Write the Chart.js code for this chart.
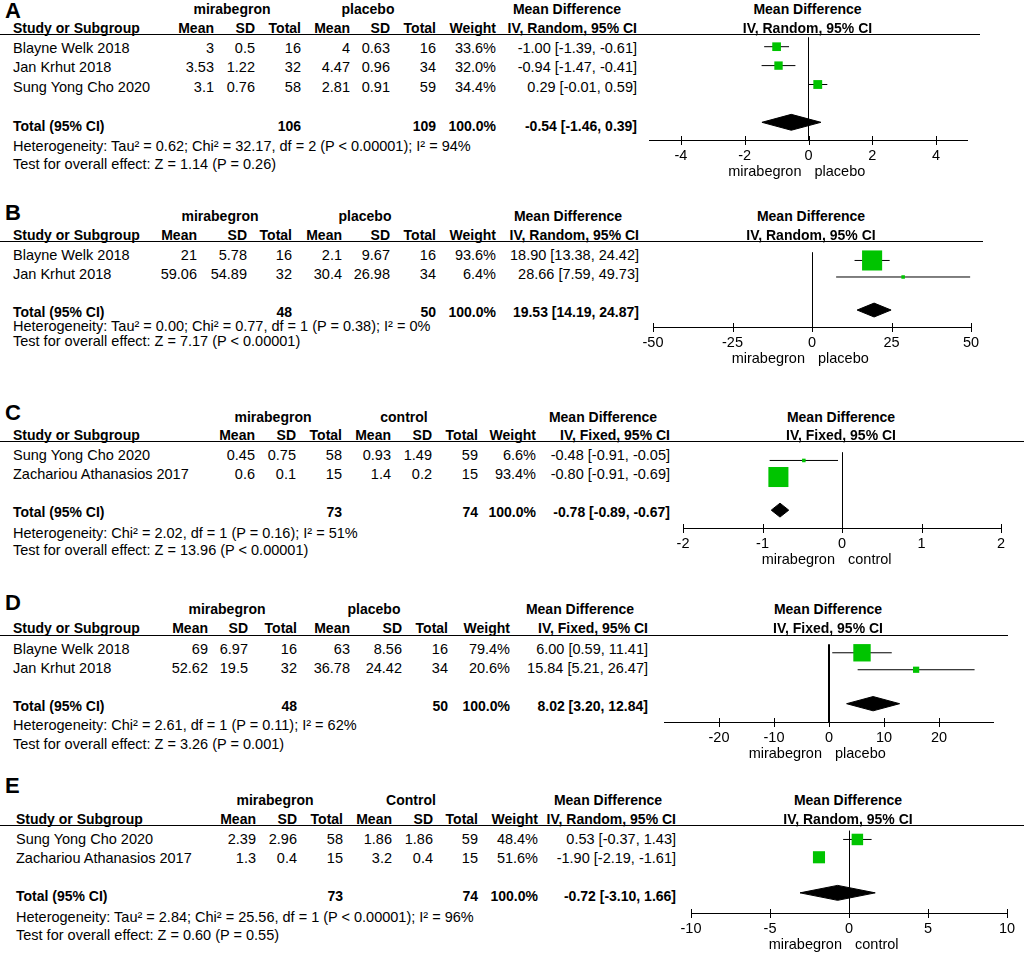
<!DOCTYPE html>
<html>
<head>
<meta charset="utf-8">
<title>Forest plots</title>
<script src="https://cdn.jsdelivr.net/npm/chart.js@4.4.1/dist/chart.umd.min.js"></script>
<style>
  html, body { margin: 0; padding: 0; background: #fff; }
  #page { position: relative; width: 1024px; height: 953px; overflow: hidden; background: #fff; }
  .t { position: absolute; font: 14.5px "Liberation Sans", Arial, sans-serif; line-height: 18px; white-space: nowrap; color: #000; }
  .b { font-weight: bold; font-size: 14px; }
  .rule { position: absolute; left: 0; height: 0; border-top: 1px solid #000; }
  .plot { position: absolute; }
</style>
</head>
<body>
<div id="page"></div>
<script>
// ==================
//  DATOS
// ==================
// A
const A_STUDIES = ["Blayne Welk 2018", "Jan Krhut 2018", "Sung Yong Cho 2020"];
const A_MIRA = [[3, 0.5, 16], [3.53, 1.22, 32], [3.1, 0.76, 58]];   // mean, sd, total
const A_CTRL = [[4, 0.63, 16], [4.47, 0.96, 34], [2.81, 0.91, 59]];
const A_WEIGHT = [33.6, 32.0, 34.4];
const A_MD = [-1.00, -0.94, 0.29];
const A_LO = [-1.39, -1.47, -0.01];
const A_HI = [-0.61, -0.41, 0.59];
const A_TOTAL_N = [106, 109];
const A_POOLED = [-0.54, -1.46, 0.39];
const A_HET = "Heterogeneity: Tau² = 0.62; Chi² = 32.17, df = 2 (P < 0.00001); I² = 94%";
const A_TEST = "Test for overall effect: Z = 1.14 (P = 0.26)";
const A_GROUPS = ["mirabegron", "placebo"];
const A_SIDES = ["mirabegron", "placebo"];
const A_METHOD = "IV, Random, 95% CI";
const A_RANGE = [-5, 5];
const A_TICKS = [-4, -2, 0, 2, 4];

// B
const B_STUDIES = ["Blayne Welk 2018", "Jan Krhut 2018"];
const B_MIRA = [[21, 5.78, 16], [59.06, 54.89, 32]];
const B_CTRL = [[2.1, 9.67, 16], [30.4, 26.98, 34]];
const B_WEIGHT = [93.6, 6.4];
const B_MD = [18.90, 28.66];
const B_LO = [13.38, 7.59];
const B_HI = [24.42, 49.73];
const B_TOTAL_N = [48, 50];
const B_POOLED = [19.53, 14.19, 24.87];
const B_HET = "Heterogeneity: Tau² = 0.00; Chi² = 0.77, df = 1 (P = 0.38); I² = 0%";
const B_TEST = "Test for overall effect: Z = 7.17 (P < 0.00001)";
const B_GROUPS = ["mirabegron", "placebo"];
const B_SIDES = ["mirabegron", "placebo"];
const B_METHOD = "IV, Random, 95% CI";
const B_RANGE = [-50, 50];
const B_TICKS = [-50, -25, 0, 25, 50];

// C
const C_STUDIES = ["Sung Yong Cho 2020", "Zachariou Athanasios 2017"];
const C_MIRA = [[0.45, 0.75, 58], [0.6, 0.1, 15]];
const C_CTRL = [[0.93, 1.49, 59], [1.4, 0.2, 15]];
const C_WEIGHT = [6.6, 93.4];
const C_MD = [-0.48, -0.80];
const C_LO = [-0.91, -0.91];
const C_HI = [-0.05, -0.69];
const C_TOTAL_N = [73, 74];
const C_POOLED = [-0.78, -0.89, -0.67];
const C_HET = "Heterogeneity: Chi² = 2.02, df = 1 (P = 0.16); I² = 51%";
const C_TEST = "Test for overall effect: Z = 13.96 (P < 0.00001)";
const C_GROUPS = ["mirabegron", "control"];
const C_SIDES = ["mirabegron", "control"];
const C_METHOD = "IV, Fixed, 95% CI";
const C_RANGE = [-2, 2];
const C_TICKS = [-2, -1, 0, 1, 2];

// D
const D_STUDIES = ["Blayne Welk 2018", "Jan Krhut 2018"];
const D_MIRA = [[69, 6.97, 16], [52.62, 19.5, 32]];
const D_CTRL = [[63, 8.56, 16], [36.78, 24.42, 34]];
const D_WEIGHT = [79.4, 20.6];
const D_MD = [6.00, 15.84];
const D_LO = [0.59, 5.21];
const D_HI = [11.41, 26.47];
const D_TOTAL_N = [48, 50];
const D_POOLED = [8.02, 3.20, 12.84];
const D_HET = "Heterogeneity: Chi² = 2.61, df = 1 (P = 0.11); I² = 62%";
const D_TEST = "Test for overall effect: Z = 3.26 (P = 0.001)";
const D_GROUPS = ["mirabegron", "placebo"];
const D_SIDES = ["mirabegron", "placebo"];
const D_METHOD = "IV, Fixed, 95% CI";
const D_RANGE = [-30, 30];
const D_TICKS = [-20, -10, 0, 10, 20];

// E
const E_STUDIES = ["Sung Yong Cho 2020", "Zachariou Athanasios 2017"];
const E_MIRA = [[2.39, 2.96, 58], [1.3, 0.4, 15]];
const E_CTRL = [[1.86, 1.86, 59], [3.2, 0.4, 15]];
const E_WEIGHT = [48.4, 51.6];
const E_MD = [0.53, -1.90];
const E_LO = [-0.37, -2.19];
const E_HI = [1.43, -1.61];
const E_TOTAL_N = [73, 74];
const E_POOLED = [-0.72, -3.10, 1.66];
const E_HET = "Heterogeneity: Tau² = 2.84; Chi² = 25.56, df = 1 (P < 0.00001); I² = 96%";
const E_TEST = "Test for overall effect: Z = 0.60 (P = 0.55)";
const E_GROUPS = ["mirabegron", "Control"];
const E_SIDES = ["mirabegron", "control"];
const E_METHOD = "IV, Random, 95% CI";
const E_RANGE = [-10, 10];
const E_TICKS = [-10, -5, 0, 5, 10];

// ==================
//  MAQUETACIÓN (posiciones en px)
// ==================
const LAYOUT = {
  A: { letterY: 11, groupY: 9, headY: 28, line: 34, axis: 140, rowH: 19.5, hetY: 146, testY: 164, studyX: 13,
       cols: [214, 255, 301, 350, 390, 436, 496], ciR: 637, groupC: [232, 368], mdC: 567, plot: [649, 968], lineEnd: 980, zeroW: 1 },
  B: { letterY: 213, groupY: 216, headY: 235, line: 241, axis: 327, rowH: 19, hetY: 326, testY: 341, studyX: 13,
       cols: [197, 247, 292, 342, 390, 436, 496], ciR: 639, groupC: [220, 365], mdC: 568, plot: [653, 971], lineEnd: 983, zeroW: 1 },
  C: { letterY: 413, groupY: 417, headY: 435, line: 441, axis: 528, rowH: 19, hetY: 533, testY: 550, studyX: 13,
       cols: [255, 296, 342, 391, 432, 478, 536], ciR: 670, groupC: [273, 404], mdC: 603, plot: [683, 1001], lineEnd: 1024, zeroW: 1 },
  D: { letterY: 603, groupY: 609, headY: 628, line: 635, axis: 722, rowH: 19, hetY: 725, testY: 744, studyX: 13,
       cols: [208, 248, 297, 350, 402, 448, 510], ciR: 648, groupC: [227, 374], mdC: 580, plot: [664, 994], lineEnd: 1008, zeroW: 2 },
  E: { letterY: 786, groupY: 800, headY: 819, line: 825, axis: 913, rowH: 19, hetY: 917, testY: 935, studyX: 16,
       cols: [256, 297, 343, 392, 433, 478, 538], ciR: 676, groupC: [275, 411], mdC: 608, plot: [691, 1007], lineEnd: 1024, zeroW: 1 }
};

const FONT = '"Liberation Sans", Arial, sans-serif';
const GREEN = "#00c400";
Chart.defaults.font.family = FONT;

const page = document.getElementById("page");

function put(text, x, y, opts = {}) {
  const el = document.createElement("div");
  el.className = "t" + (opts.bold ? " b" : "");
  el.textContent = text;
  el.style.top = (y - 9) + "px";
  if (opts.size) {
    el.style.fontSize = opts.size + "px";
    el.style.lineHeight = (opts.size + 4) + "px";
    el.style.top = (y - (opts.size + 4) / 2) + "px";
  }
  if (opts.align === "right") {
    el.style.left = (x - 400) + "px"; el.style.width = "400px"; el.style.textAlign = "right";
  } else if (opts.align === "center") {
    el.style.left = (x - 200) + "px"; el.style.width = "400px"; el.style.textAlign = "center";
  } else {
    el.style.left = x + "px";
  }
  page.appendChild(el);
  return el;
}

function fmtCI(md, lo, hi) {
  return `${md.toFixed(2)} [${lo.toFixed(2)}, ${hi.toFixed(2)}]`;
}

// square side grows with study weight
function squareSide(w) {
  return 2.3 + 0.19 * w;
}

// tick marks that cross the axis line
const crossTicks = {
  id: "crossTicks",
  afterDraw(chart) {
    const sx = chart.scales.x;
    const yb = Math.round(chart.chartArea.bottom);
    const ctx = chart.ctx;
    ctx.save();
    ctx.strokeStyle = "#000";
    ctx.lineWidth = 1;
    sx.ticks.forEach((t) => {
      const px = Math.round(sx.getPixelForValue(t.value)) + 0.5;
      ctx.beginPath();
      ctx.moveTo(px, yb - 4);
      ctx.lineTo(px, yb + 5);
      ctx.stroke();
    });
    ctx.restore();
  }
};

function drawPanel(d, L) {
  // --- tabla ---
  put(d.id, 5, L.letterY, { bold: true, size: 22 });
  put(d.groups[0], L.groupC[0], L.groupY, { bold: true, align: "center" });
  put(d.groups[1], L.groupC[1], L.groupY, { bold: true, align: "center" });
  put("Mean Difference", L.mdC, L.groupY, { bold: true, align: "center" });
  put("Study or Subgroup", L.studyX, L.headY, { bold: true });
  ["Mean", "SD", "Total", "Mean", "SD", "Total", "Weight"].forEach((h, k) =>
    put(h, L.cols[k], L.headY, { bold: true, align: "right" }));
  put(d.method, L.ciR, L.headY, { bold: true, align: "right" });

  const rule = document.createElement("div");
  rule.className = "rule";
  rule.style.top = L.line + "px";
  rule.style.width = L.lineEnd + "px";
  page.appendChild(rule);

  d.studies.forEach((s, i) => {
    const y = L.line + L.rowH * (i + 0.5) + 4;
    const cells = [...d.mira[i], ...d.ctrl[i], d.weight[i].toFixed(1) + "%"];
    put(s, L.studyX, y);
    cells.forEach((c, k) => put(String(c), L.cols[k], y, { align: "right" }));
    put(fmtCI(d.md[i], d.lo[i], d.hi[i]), L.ciR, y, { align: "right" });
  });

  const n = d.studies.length;
  const ty = L.line + L.rowH * (n + 1.5) + 4;
  const wsum = d.weight.reduce((a, b) => a + b, 0);
  put("Total (95% CI)", L.studyX, ty, { bold: true });
  put(String(d.totalN[0]), L.cols[2], ty, { bold: true, align: "right" });
  put(String(d.totalN[1]), L.cols[5], ty, { bold: true, align: "right" });
  put(wsum.toFixed(1) + "%", L.cols[6], ty, { bold: true, align: "right" });
  put(fmtCI(d.pooled[0], d.pooled[1], d.pooled[2]), L.ciR, ty, { bold: true, align: "right" });
  put(d.het, L.studyX, L.hetY);
  put(d.test, L.studyX, L.testY);

  // --- gráfico ---
  const pad = 30, top = 3, below = 28;
  const w = L.plot[1] - L.plot[0] + 2 * pad;
  const h = L.axis - L.line + top + below;
  const canvas = document.createElement("canvas");
  canvas.className = "plot";
  canvas.width = w;
  canvas.height = h;
  canvas.style.left = (L.plot[0] - pad) + "px";
  canvas.style.top = (L.line - top) + "px";
  canvas.style.width = w + "px";
  canvas.style.height = h + "px";
  page.appendChild(canvas);

  const ymax = (L.axis - L.line) / L.rowH;
  const yt = n + 1.5;
  const hh = 0.42;
  const [pm, plo, phi] = d.pooled;

  const datasets = [
    {
      data: d.md.map((m, i) => ({ x: m, y: i + 0.5 })),
      pointStyle: "rect",
      pointRadius: d.weight.map((wt) => squareSide(wt) / Math.SQRT2),
      pointBackgroundColor: GREEN,
      pointBorderColor: GREEN,
      pointBorderWidth: 0,
      showLine: false,
      order: 0,
      clip: false
    },
    {
      data: [{ x: plo, y: yt }, { x: pm, y: yt - hh }, { x: phi, y: yt }],
      showLine: true, borderColor: "#000", borderWidth: 1, backgroundColor: "#000",
      pointRadius: 0, fill: "+1", order: 1, clip: false
    },
    {
      data: [{ x: plo, y: yt }, { x: pm, y: yt + hh }, { x: phi, y: yt }],
      showLine: true, borderColor: "#000", borderWidth: 1, backgroundColor: "#000",
      pointRadius: 0, fill: false, order: 1, clip: false
    },
    ...d.md.map((m, i) => ({
      data: [{ x: d.lo[i], y: i + 0.5 }, { x: d.hi[i], y: i + 0.5 }],
      showLine: true, borderColor: "#000", borderWidth: 1,
      pointRadius: 0, fill: false, order: 2, clip: false
    }))
  ];

  const chart = new Chart(canvas.getContext("2d"), {
    type: "scatter",
    data: { datasets },
    options: {
      responsive: false,
      animation: false,
      events: [],
      layout: { padding: { left: pad, right: pad, top: top, bottom: 0 } },
      plugins: { legend: { display: false }, tooltip: { enabled: false } },
      scales: {
        x: {
          type: "linear",
          min: d.range[0],
          max: d.range[1],
          afterBuildTicks: (s) => { s.ticks = d.ticks.map((v) => ({ value: v })); },
          afterFit: (s) => { s.height = below; },
          grid: {
            drawTicks: false,
            color: (c) => (c.tick && c.tick.value === 0 ? "#000" : "rgba(0,0,0,0)"),
            lineWidth: (c) => (c.tick && c.tick.value === 0 ? L.zeroW : 0)
          },
          border: { display: true, color: "#000", width: 1 },
          ticks: { color: "#000", padding: 7, autoSkip: false, maxRotation: 0, font: { family: FONT, size: 14.5 } }
        },
        y: { type: "linear", reverse: true, min: 0, max: ymax, display: false }
      }
    },
    plugins: [crossTicks]
  });

  // textos alrededor del gráfico, colocados con la escala
  const zero = L.plot[0] - pad + chart.scales.x.getPixelForValue(0);
  put("Mean Difference", zero - 1, L.groupY, { bold: true, align: "center" });
  put(d.method, zero - 1, L.headY, { bold: true, align: "center" });
  put(d.sides[0], zero - 7, L.axis + 31, { align: "right" });
  put(d.sides[1], zero + 6, L.axis + 31);
}

const PANELS = [
  { id: "A", studies: A_STUDIES, mira: A_MIRA, ctrl: A_CTRL, weight: A_WEIGHT, md: A_MD, lo: A_LO, hi: A_HI,
    totalN: A_TOTAL_N, pooled: A_POOLED, het: A_HET, test: A_TEST, groups: A_GROUPS, sides: A_SIDES,
    method: A_METHOD, range: A_RANGE, ticks: A_TICKS },
  { id: "B", studies: B_STUDIES, mira: B_MIRA, ctrl: B_CTRL, weight: B_WEIGHT, md: B_MD, lo: B_LO, hi: B_HI,
    totalN: B_TOTAL_N, pooled: B_POOLED, het: B_HET, test: B_TEST, groups: B_GROUPS, sides: B_SIDES,
    method: B_METHOD, range: B_RANGE, ticks: B_TICKS },
  { id: "C", studies: C_STUDIES, mira: C_MIRA, ctrl: C_CTRL, weight: C_WEIGHT, md: C_MD, lo: C_LO, hi: C_HI,
    totalN: C_TOTAL_N, pooled: C_POOLED, het: C_HET, test: C_TEST, groups: C_GROUPS, sides: C_SIDES,
    method: C_METHOD, range: C_RANGE, ticks: C_TICKS },
  { id: "D", studies: D_STUDIES, mira: D_MIRA, ctrl: D_CTRL, weight: D_WEIGHT, md: D_MD, lo: D_LO, hi: D_HI,
    totalN: D_TOTAL_N, pooled: D_POOLED, het: D_HET, test: D_TEST, groups: D_GROUPS, sides: D_SIDES,
    method: D_METHOD, range: D_RANGE, ticks: D_TICKS },
  { id: "E", studies: E_STUDIES, mira: E_MIRA, ctrl: E_CTRL, weight: E_WEIGHT, md: E_MD, lo: E_LO, hi: E_HI,
    totalN: E_TOTAL_N, pooled: E_POOLED, het: E_HET, test: E_TEST, groups: E_GROUPS, sides: E_SIDES,
    method: E_METHOD, range: E_RANGE, ticks: E_TICKS }
];

// ==================
//  INICIO
// ==================
PANELS.forEach((p) => drawPanel(p, LAYOUT[p.id]));
</script>
</body>
</html>
